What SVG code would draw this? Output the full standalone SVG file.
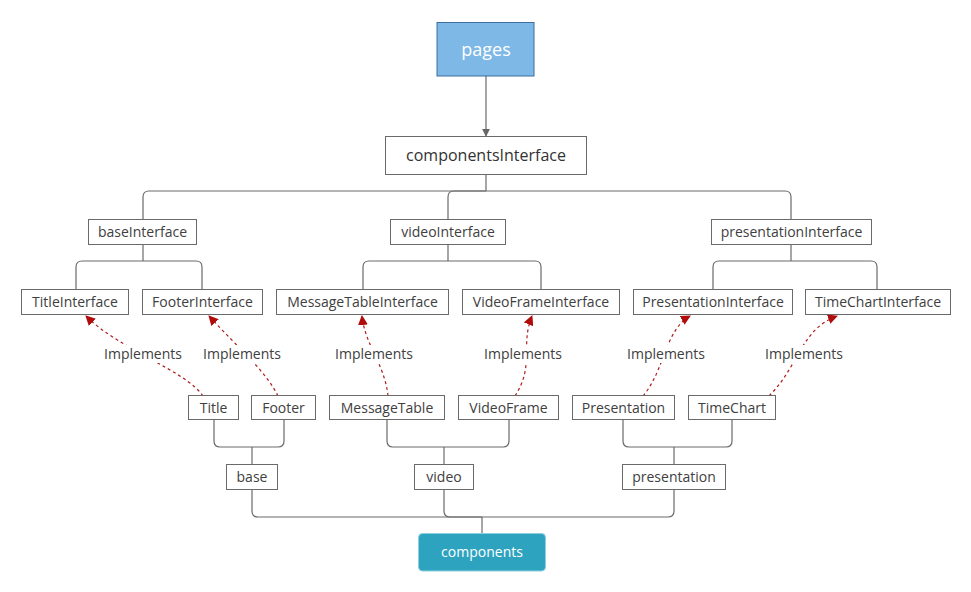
<svg xmlns="http://www.w3.org/2000/svg" width="971" height="592" viewBox="0 0 971 592">
<defs>
<marker id="ga" viewBox="0 0 10 10" refX="9" refY="5" markerWidth="8" markerHeight="8" markerUnits="userSpaceOnUse" orient="auto"><path d="M0,0 L10,5 L0,10 Z" fill="#666"/></marker>
<marker id="ra" viewBox="0 0 10 10" refX="9" refY="5" markerWidth="10" markerHeight="10" markerUnits="userSpaceOnUse" orient="auto"><path d="M0,0 L10,5 L0,10 Z" fill="#b00c0c"/></marker>
</defs>
<style>
text{font-family:"Open Sans","Noto Sans",sans-serif;font-size:14px;fill:#404040;text-anchor:middle}
.box{fill:#fff;stroke:#6a6a6a;stroke-width:1}
.ln{fill:none;stroke:#6a6a6a;stroke-width:1.2}
.dash{fill:none;stroke:#b01c1c;stroke-width:1.2;stroke-dasharray:3,3}
.lbl{fill:#fff}
</style>
<rect width="971" height="592" fill="#fff"/>
<g id="connectors">
<path class="ln" d="M486,76 V136" marker-end="url(#ga)"/>
<path class="ln" d="M486,174 V191"/>
<path class="ln" d="M486,191 H149 Q143,191 143,197 V219"/>
<path class="ln" d="M486,191 H454 Q448,191 448,197 V219"/>
<path class="ln" d="M486,191 H785 Q791,191 791,197 V219"/>
<path class="ln" d="M143,244 V261"/>
<path class="ln" d="M143,261 H82 Q76,261 76,267 V289"/>
<path class="ln" d="M143,261 H196 Q202,261 202,267 V289"/>
<path class="ln" d="M448,244 V261"/>
<path class="ln" d="M448,261 H369 Q363,261 363,267 V289"/>
<path class="ln" d="M448,261 H535 Q541,261 541,267 V289"/>
<path class="ln" d="M791,244 V261"/>
<path class="ln" d="M791,261 H719 Q713,261 713,267 V289"/>
<path class="ln" d="M791,261 H871 Q877,261 877,267 V289"/>
<path class="ln" d="M214,419 V441 Q214,447 220,447 H278 Q284,447 284,441 V419"/>
<path class="ln" d="M252,447 V464"/>
<path class="ln" d="M387,419 V441 Q387,447 393,447 H503 Q509,447 509,441 V419"/>
<path class="ln" d="M444,447 V464"/>
<path class="ln" d="M623,419 V441 Q623,447 629,447 H726 Q732,447 732,441 V419"/>
<path class="ln" d="M674,447 V464"/>
<path class="ln" d="M252,489 V511 Q252,517 258,517 H482"/>
<path class="ln" d="M444,489 V511 Q444,517 450,517 H482"/>
<path class="ln" d="M674,489 V511 Q674,517 668,517 H482"/>
<path class="ln" d="M482,517 V533"/>
<path class="dash" d="M203,396 C185,370 120,350 86,316" marker-end="url(#ra)"/>
<path class="dash" d="M278,396 C265,370 240,350 209,316" marker-end="url(#ra)"/>
<path class="dash" d="M388,396 C385,365 365,345 362,316" marker-end="url(#ra)"/>
<path class="dash" d="M515,396 C535,365 520,345 532,316" marker-end="url(#ra)"/>
<path class="dash" d="M643,396 C665,370 665,330 690,316" marker-end="url(#ra)"/>
<path class="dash" d="M769,396 C800,365 800,330 837,316" marker-end="url(#ra)"/>
<rect class="lbl" x="103" y="345" width="81" height="18"/>
<text x="143" y="359">Implements</text>
<rect class="lbl" x="202" y="345" width="81" height="18"/>
<text x="242" y="359">Implements</text>
<rect class="lbl" x="334" y="345" width="81" height="18"/>
<text x="374" y="359">Implements</text>
<rect class="lbl" x="483" y="345" width="81" height="18"/>
<text x="523" y="359">Implements</text>
<rect class="lbl" x="626" y="345" width="81" height="18"/>
<text x="666" y="359">Implements</text>
<rect class="lbl" x="764" y="345" width="81" height="18"/>
<text x="804" y="359">Implements</text>
</g>
<g id="pages"><rect x="437" y="22.5" width="97" height="53.5" fill="#7db8e7" stroke="#3d6f9c"/><text x="486" y="56" style="font-size:18px;fill:#fff">pages</text></g>
<g id="componentsInterface"><rect class="box" x="385.5" y="136.5" width="201" height="38"/><text x="486" y="161" style="font-size:16px;fill:#333">componentsInterface</text></g>
<g id="baseInterface"><rect class="box" x="88.5" y="219.5" width="108" height="25"/><text x="142.5" y="236.5">baseInterface</text></g>
<g id="videoInterface"><rect class="box" x="390.5" y="219.5" width="115" height="25"/><text x="448" y="236.5">videoInterface</text></g>
<g id="presentationInterface"><rect class="box" x="711.5" y="219.5" width="160" height="25"/><text x="791.5" y="236.5">presentationInterface</text></g>
<g id="TitleInterface"><rect class="box" x="21.5" y="289.5" width="107" height="25"/><text x="75" y="306.5">TitleInterface</text></g>
<g id="FooterInterface"><rect class="box" x="142.5" y="289.5" width="120" height="25"/><text x="202.5" y="306.5">FooterInterface</text></g>
<g id="MessageTableInterface"><rect class="box" x="276.5" y="289.5" width="172" height="25"/><text x="362.5" y="306.5">MessageTableInterface</text></g>
<g id="VideoFrameInterface"><rect class="box" x="462.5" y="289.5" width="157" height="25"/><text x="541" y="306.5">VideoFrameInterface</text></g>
<g id="PresentationInterface"><rect class="box" x="633.5" y="289.5" width="159" height="25"/><text x="713" y="306.5">PresentationInterface</text></g>
<g id="TimeChartInterface"><rect class="box" x="805.5" y="289.5" width="145" height="25"/><text x="878" y="306.5">TimeChartInterface</text></g>
<g id="Title"><rect class="box" x="188.5" y="395.5" width="50" height="24"/><text x="213.5" y="412.5">Title</text></g>
<g id="Footer"><rect class="box" x="251.5" y="395.5" width="64" height="24"/><text x="283.5" y="412.5">Footer</text></g>
<g id="MessageTable"><rect class="box" x="329.5" y="395.5" width="115" height="24"/><text x="387" y="412.5">MessageTable</text></g>
<g id="VideoFrame"><rect class="box" x="458.5" y="395.5" width="100" height="24"/><text x="508.5" y="412.5">VideoFrame</text></g>
<g id="Presentation"><rect class="box" x="572.5" y="395.5" width="102" height="24"/><text x="623.5" y="412.5">Presentation</text></g>
<g id="TimeChart"><rect class="box" x="688.5" y="395.5" width="87" height="24"/><text x="732" y="412.5">TimeChart</text></g>
<g id="base"><rect class="box" x="226.5" y="464.5" width="51" height="25"/><text x="252" y="481.5">base</text></g>
<g id="video"><rect class="box" x="414.5" y="464.5" width="59" height="25"/><text x="444" y="481.5">video</text></g>
<g id="presentation"><rect class="box" x="622.5" y="464.5" width="103" height="25"/><text x="674" y="481.5">presentation</text></g>
<g id="components"><rect x="418.5" y="533.5" width="127" height="37.5" rx="4" fill="#2ea3bf" stroke="#8fd0e0"/><text x="482" y="557" style="fill:#fff">components</text></g>
</svg>
